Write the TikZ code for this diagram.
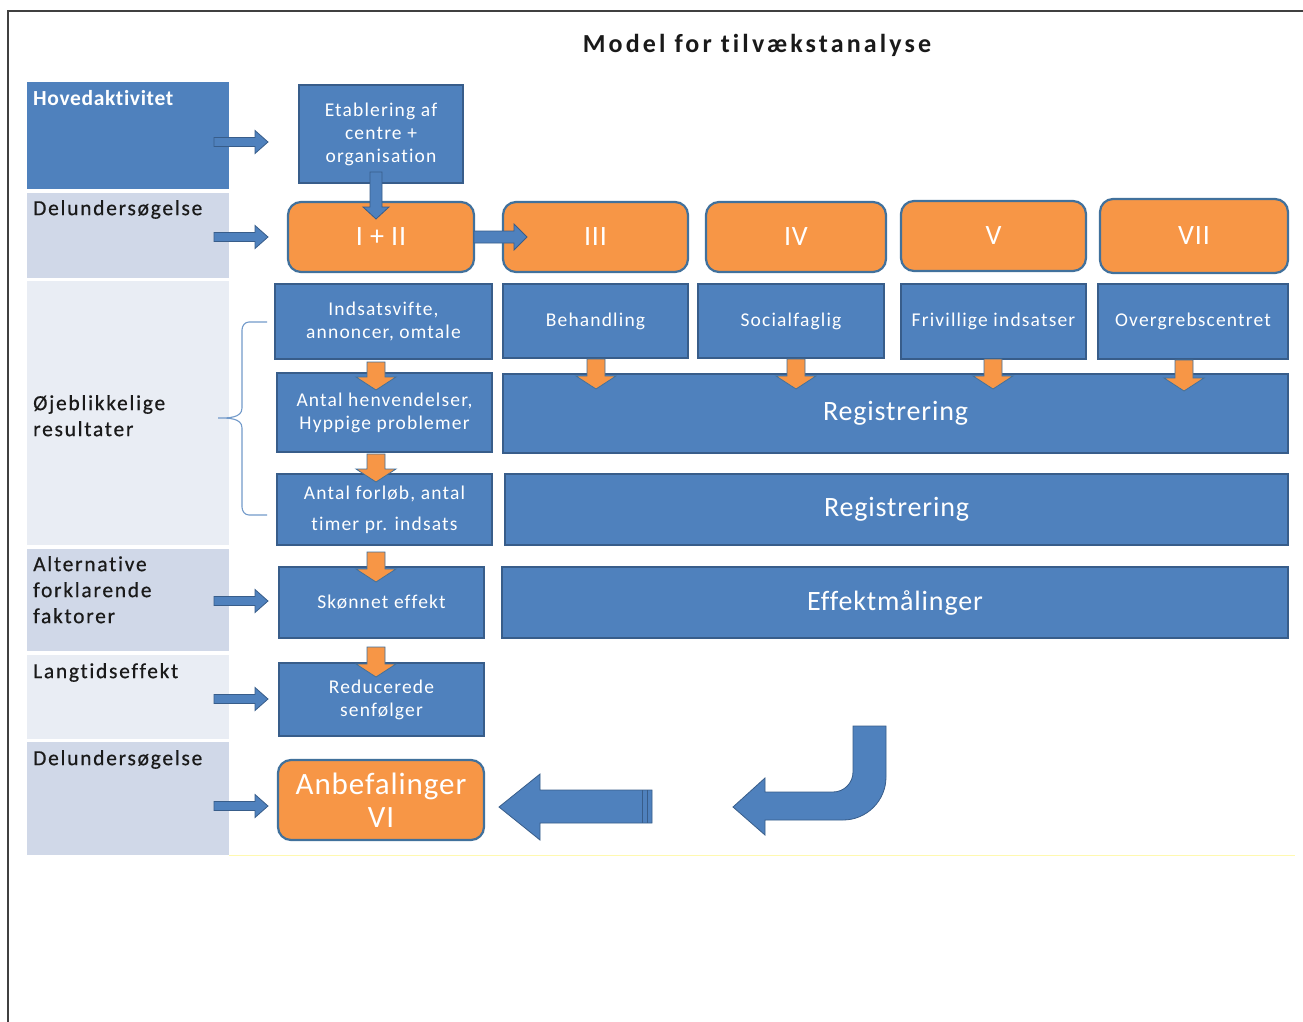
\documentclass[tikz,border=0pt]{standalone}
\usepackage{fontspec}
\setmainfont{Carlito}
\newfontfamily\titlefont[LetterSpace=12,Ligatures=NoCommon]{Carlito}
\newfontfamily\headfont[LetterSpace=3,Ligatures=NoCommon]{Carlito}
\newfontfamily\labelfont[LetterSpace=8,Ligatures=NoCommon,FakeBold=0.5]{Carlito}
\newfontfamily\boxfont[LetterSpace=6,Ligatures=NoCommon]{Carlito}
\newfontfamily\bigfont[LetterSpace=3,Ligatures=NoCommon]{Carlito}
\definecolor{bfill}{HTML}{4F81BD}
\definecolor{bline}{HTML}{385D8A}
\definecolor{ofill}{HTML}{F79646}
\definecolor{oline}{HTML}{41719C}
\definecolor{cmid}{HTML}{D0D8E8}
\definecolor{clight}{HTML}{E9EDF4}
\definecolor{txtdark}{HTML}{1A1A1A}
\definecolor{yline}{HTML}{FFF9B0}
\newcommand\myRarrow[3]{%
  \filldraw[barrow] (#1,#3-4.5) -- (#2-13,#3-4.5) -- (#2-13,#3-11.5) -- (#2,#3) -- (#2-13,#3+11.5) -- (#2-13,#3+4.5) -- (#1,#3+4.5) -- cycle;}
\newcommand\myDarrow[3]{%
  \filldraw[oarrow] (#1-9,#2) -- (#1+9,#2) -- (#1+9,#3-13) -- (#1+20,#3-13) -- (#1,#3) -- (#1-20,#3-13) -- (#1-9,#3-13) -- cycle;}
\tikzset{
  bluebox/.style={draw=bline, fill=bfill, line width=1.6pt, text=white, align=center, inner sep=2pt, font=\boxfont\fontsize{19.5}{23}\selectfont},
  orangebox/.style={draw=oline, fill=ofill, line width=2.2pt, rounded corners=13pt, text=white, align=center, font=\bigfont\fontsize{28}{30}\selectfont},
  bigtext/.style={font=\bigfont\fontsize{28}{32}\selectfont},
  rowlabel/.style={anchor=north west, inner sep=0pt, align=left, text=txtdark, font=\labelfont\fontsize{21.5}{26}\selectfont},
  barrow/.style={fill=bfill, draw=bline, line width=0.8pt},
  oarrow/.style={fill=ofill, draw=oline, line width=0.8pt},
  bracestyle/.style={draw=bfill!80!white, line width=1.1pt}
}
\begin{document}
\begin{tikzpicture}[x=1pt, y=-1pt]
\useasboundingbox[fill=white] (0,0) rectangle (1303,1022);
% frame
\draw[line width=1.6pt, black!75] (8,1030) -- (8,11) -- (1310,11);
% title
\node[font=\titlefont\fontsize{26}{30}\selectfont\bfseries, text=txtdark] (title) at (757,45) {Model for tilvækstanalyse};
% left column
\fill[bfill] (27,82) rectangle (229,189);
\fill[cmid] (27,193) rectangle (229,278);
\fill[clight] (27,281) rectangle (229,545);
\fill[cmid] (27,549) rectangle (229,651);
\fill[clight] (27,655) rectangle (229,739);
\fill[cmid] (27,742) rectangle (229,855);
\draw[yline, line width=1.2pt] (229,855.5) -- (1295,855.5);
\node[rowlabel, text=white, font=\headfont\fontsize{21.5}{26}\selectfont\bfseries] (l1) at (33,90) {Hovedaktivitet};
\node[rowlabel] (l2) at (33,200) {Delundersøgelse};
\node[rowlabel] (l3) at (33,395) {Øjeblikkelige\\resultater};
\node[rowlabel] (l4) at (33,556) {Alternative\\forklarende\\faktorer};
\node[rowlabel] (l5) at (33,663) {Langtidseffekt};
\node[rowlabel] (l6) at (33,750) {Delundersøgelse};
% boxes
\node[bluebox, minimum width=164pt, minimum height=98pt] (etab) at (381,134) {Etablering af\\centre +\\organisation};
\node[orangebox, minimum width=186pt, minimum height=70pt] (p12) at (381,237) {I + II};
\node[orangebox, minimum width=185pt, minimum height=70pt] (p3) at (595.5,237) {III};
\node[orangebox, minimum width=180pt, minimum height=70pt] (p4) at (796,237) {IV};
\node[orangebox, minimum width=185pt, minimum height=70pt] (p5) at (993.5,236) {V};
\node[orangebox, minimum width=188pt, minimum height=74pt] (p7) at (1194,236) {VII};
\node[bluebox, minimum width=217pt, minimum height=75pt] (ind) at (383.5,321.5) {Indsatsvifte,\\annoncer, omtale};
\node[bluebox, minimum width=185pt, minimum height=74pt] (beh) at (595.5,321) {Behandling};
\node[bluebox, minimum width=186pt, minimum height=74pt] (soc) at (791,321) {Socialfaglig};
\node[bluebox, minimum width=185pt, minimum height=75pt] (fri) at (993.5,321.5) {Frivillige indsatser};
\node[bluebox, minimum width=190pt, minimum height=75pt] (ove) at (1193,321.5) {Overgrebscentret};
\node[bluebox, minimum width=215pt, minimum height=79pt] (ant) at (384.5,412.5) {Antal henvendelser,\\Hyppige problemer};
\node[bluebox, bigtext, minimum width=785pt, minimum height=79pt] (reg1) at (895.5,413.5) {Registrering};
\node[bluebox, minimum width=215pt, minimum height=71pt] (forl) at (384.5,509.5) {Antal forløb, antal\\[8pt]timer pr. indsats};
\node[bluebox, bigtext, minimum width=783pt, minimum height=71pt] (reg2) at (896.5,509.5) {Registrering};
\node[bluebox, minimum width=205pt, minimum height=71pt] (skon) at (381.5,602.5) {Skønnet effekt};
\node[bluebox, bigtext, minimum width=786pt, minimum height=71pt] (eff) at (895,602.5) {Effektmålinger};
\node[bluebox, minimum width=205pt, minimum height=73pt] (red) at (381.5,699.5) {Reducerede\\senfølger};
\node[orangebox, font=\bigfont\fontsize{31}{33}\selectfont, minimum width=206pt, minimum height=80pt] (anb) at (381,800) {Anbefalinger\\VI};
% left arrows
\myRarrow{214}{268}{142}
\myRarrow{214}{268}{237}
\myRarrow{214}{268}{601}
\myRarrow{214}{268}{699}
\myRarrow{214}{268}{806}
% etab -> I+II
\filldraw[barrow] (370,172) -- (382,172) -- (382,207) -- (389,207) -- (376,219) -- (363,207) -- (370,207) -- cycle;
% I+II -> III
\filldraw[barrow] (474,231) -- (514,231) -- (514,224) -- (527,237) -- (514,250) -- (514,243) -- (474,243) -- cycle;
% orange down arrows
\myDarrow{376}{362}{390}
\myDarrow{376}{454}{482}
\myDarrow{376}{552}{582}
\myDarrow{376}{647}{677}
\myDarrow{596}{359}{389}
\myDarrow{796}{359}{389}
\myDarrow{993}{359}{389}
\myDarrow{1184}{360}{391}
% brace
\draw[bracestyle] (267,322) -- (249,322) to[out=180,in=90] (242,330) -- (242,408) to[out=-90,in=0] (218,418)
  to[out=0,in=90] (242,428) -- (242,507) to[out=-90,in=180] (249,515) -- (267,515);
% big left arrow
\filldraw[barrow] (499,807) -- (540,774) -- (540,790) -- (652,790) -- (652,823) -- (540,823) -- (540,840) -- cycle;
\draw[bline, line width=1pt] (642,790) -- (642,823) (647,790) -- (647,823);
% bent arrow
\filldraw[barrow] (853,726) -- (886,726) -- (886,777) arc[start angle=0, end angle=90, radius=43] -- (765,820) -- (765,835) -- (733,807) -- (765,778) -- (765,792) -- (833,792) arc[start angle=90, end angle=0, radius=20] -- cycle;
\end{tikzpicture}
\end{document}
